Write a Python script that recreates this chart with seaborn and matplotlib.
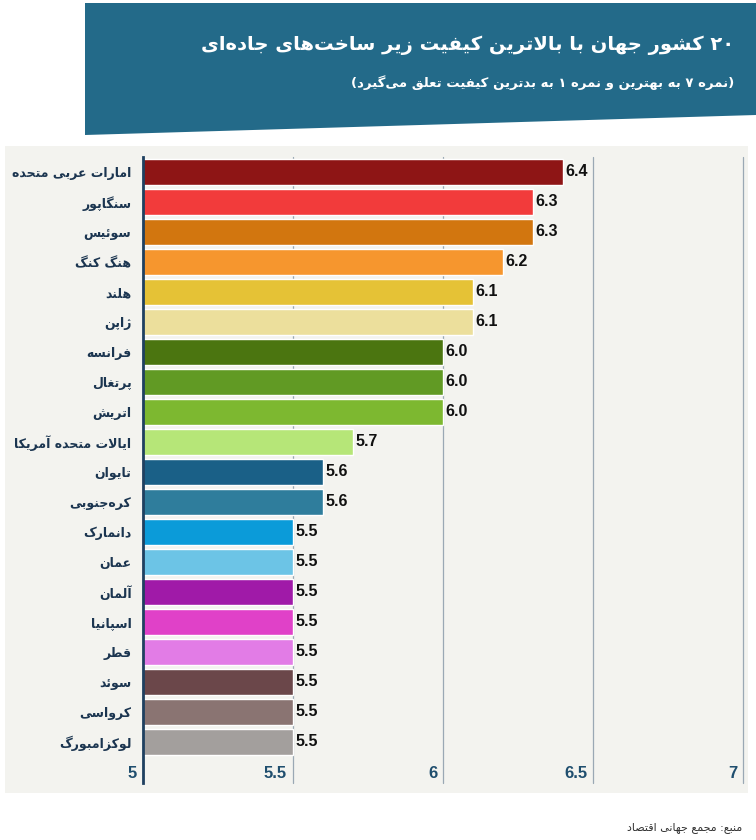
import matplotlib
matplotlib.use("Agg")
import matplotlib.pyplot as plt
import matplotlib.transforms as mtransforms
from matplotlib.patches import Polygon, Rectangle
import seaborn as sns

# ---- data ----
countries = [
    "امارات عربی متحده", "سنگاپور", "سوئیس", "هنگ کنگ", "هلند", "ژاپن",
    "فرانسه", "پرتغال", "اتریش", "ایالات متحده آمریکا", "تایوان",
    "کره\u200cجنوبی", "دانمارک", "عمان", "آلمان", "اسپانیا", "قطر",
    "سوئد", "کرواسی", "لوکزامبورگ",
]
scores = [6.4, 6.3, 6.3, 6.2, 6.1, 6.1, 6.0, 6.0, 6.0, 5.7, 5.6, 5.6,
          5.5, 5.5, 5.5, 5.5, 5.5, 5.5, 5.5, 5.5]
bar_colors = [
    "#8e1515", "#f23b3b", "#d2760f", "#f6962e", "#e5c236", "#ecdf9c",
    "#4b7510", "#619a24", "#7db830", "#b6e678", "#1a6087", "#2f7d9c",
    "#0b9bd9", "#6cc4e6", "#a01aa8", "#e041c8", "#e27ce6", "#6b474a",
    "#8a7472", "#a39f9d",
]
x_ticks = [5, 5.5, 6, 6.5, 7]
x_tick_labels = ["5", "5.5", "6", "6.5", "7"]

title = "۲۰ کشور جهان با بالاترین کیفیت زیر ساخت\u200cهای جاده\u200cای"
subtitle = "(نمره ۷ به بهترین و نمره ۱ به بدترین کیفیت تعلق می\u200cگیرد)"
source = "منبع: مجمع جهانی اقتصاد"


# ---- simple Persian shaping (matplotlib has no text shaping) ----
RIGHT = {"ا": 0xFE8D, "آ": 0xFE81, "د": 0xFEA9, "ذ": 0xFEAB, "ر": 0xFEAD,
         "ز": 0xFEAF, "ژ": 0xFB8A, "و": 0xFEED}
DUAL = {"ب": 0xFE8F, "پ": 0xFB56, "ت": 0xFE95, "ث": 0xFE99, "ج": 0xFE9D,
        "چ": 0xFB7A, "ح": 0xFEA1, "خ": 0xFEA5, "س": 0xFEB1, "ش": 0xFEB5,
        "ص": 0xFEB9, "ض": 0xFEBD, "ط": 0xFEC1, "ظ": 0xFEC5, "ع": 0xFEC9,
        "غ": 0xFECD, "ف": 0xFED1, "ق": 0xFED5, "ک": 0xFB8E, "گ": 0xFB92,
        "ل": 0xFEDD, "م": 0xFEE1, "ن": 0xFEE5, "ه": 0xFEE9, "ی": 0xFBFC,
        "ئ": 0xFE89}
DIGITS = "0123456789۰۱۲۳۴۵۶۷۸۹."
MIRROR = {"(": ")", ")": "("}


def fa(text):
    chars = list(text)
    n = len(chars)
    shaped = []
    i = 0
    while i < n:
        c = chars[i]
        joins_prev = i > 0 and chars[i - 1] in DUAL
        if c == "ل" and i + 1 < n and chars[i + 1] in ("ا", "آ"):
            base = 0xFEFB if chars[i + 1] == "ا" else 0xFEF5
            shaped.append(chr(base + int(joins_prev)))
            i += 2
            continue
        nxt = chars[i + 1] if i + 1 < n else ""
        joins_next = nxt in DUAL or nxt in RIGHT
        if c in DUAL:
            k = {(False, False): 0, (True, False): 1,
                 (False, True): 2, (True, True): 3}[(joins_prev, joins_next)]
            shaped.append(chr(DUAL[c] + k))
        elif c in RIGHT:
            shaped.append(chr(RIGHT[c] + int(joins_prev)))
        elif c != "\u200c":
            shaped.append(c)
        i += 1
    # visual order: reverse, keep number runs left-to-right
    runs = []
    num = ""
    for c in shaped:
        if c in DIGITS:
            num += c
        else:
            if num:
                runs.append(num)
                num = ""
            runs.append(MIRROR.get(c, c))
    if num:
        runs.append(num)
    return "".join(reversed(runs))


labels = [fa(c) for c in countries]

# ---- figure ----
sns.set_style("white")
plt.rcParams["font.family"] = ["DejaVu Sans"]

W, H = 756, 840
fig = plt.figure(figsize=(W / 100, H / 100), dpi=100)
fig.patch.set_facecolor("white")

# grey panel behind the chart
fig.patches.append(Rectangle((5 / W, 1 - 793 / H), 743 / W, 647 / H,
                             transform=fig.transFigure, facecolor="#f3f3ef",
                             edgecolor="none", zorder=-2))
# title banner with slanted bottom edge
fig.patches.append(Polygon([(85 / W, 1 - 3 / H), (1, 1 - 3 / H),
                            (1, 1 - 115 / H), (85 / W, 1 - 135 / H)],
                           closed=True, transform=fig.transFigure,
                           facecolor="#236a89", edgecolor="none", zorder=-2))

fig.text(734 / W, 1 - 45 / H, fa(title), ha="right", va="center",
         color="white", fontsize=14, fontweight="bold")
fig.text(734 / W, 1 - 83 / H, fa(subtitle), ha="right", va="center",
         color="white", fontsize=9.5, fontweight="bold")
fig.text(742 / W, 1 - 828 / H, fa(source), ha="right", va="center",
         color="#333333", fontsize=8)

ax = fig.add_axes([142.5 / W, 1 - 783 / H, 600.5 / W, 626 / H])
ax.set_facecolor("none")
ax.set_zorder(1)

sns.barplot(x=scores, y=labels, hue=labels, palette=bar_colors,
            legend=False, width=0.88, orient="h", saturation=1, ax=ax)

for cont in ax.containers:
    ax.bar_label(cont, fmt="%.1f", padding=2, fontsize=11.5,
                 fontweight="bold", color="#111111", family="Liberation Sans")

ax.set_xlim(5, 7)
ax.set_ylim(20.37, -0.5)
ax.set_xlabel("")
ax.set_ylabel("")

ax.set_xticks(x_ticks)
ax.set_xticklabels(x_tick_labels, fontweight="bold", family="Liberation Sans",
                   fontsize=12, color="#1f4e6e", ha="right")
ax.grid(axis="x", color="#9aa8b4", linewidth=0.9)
ax.grid(axis="y", visible=False)
ax.set_axisbelow(True)
for line in ax.get_xgridlines():
    line.set_clip_on(False)

for side in ["top", "right", "bottom"]:
    ax.spines[side].set_visible(False)
ax.spines["left"].set_color("#1f4060")
ax.spines["left"].set_linewidth(2)
ax.spines["left"].set_zorder(5)

ax.tick_params(axis="x", length=0, pad=-12)
ax.tick_params(axis="y", length=0, pad=8, labelsize=9,
               labelcolor="#1b3550")
shift = mtransforms.ScaledTranslation(-4 / 72, 0, fig.dpi_scale_trans)
for t in ax.get_xticklabels():
    t.set_transform(t.get_transform() + shift)
for t in ax.get_yticklabels():
    t.set_fontweight("bold")

fig.savefig("out.png", dpi=100)
plt.close(fig)
